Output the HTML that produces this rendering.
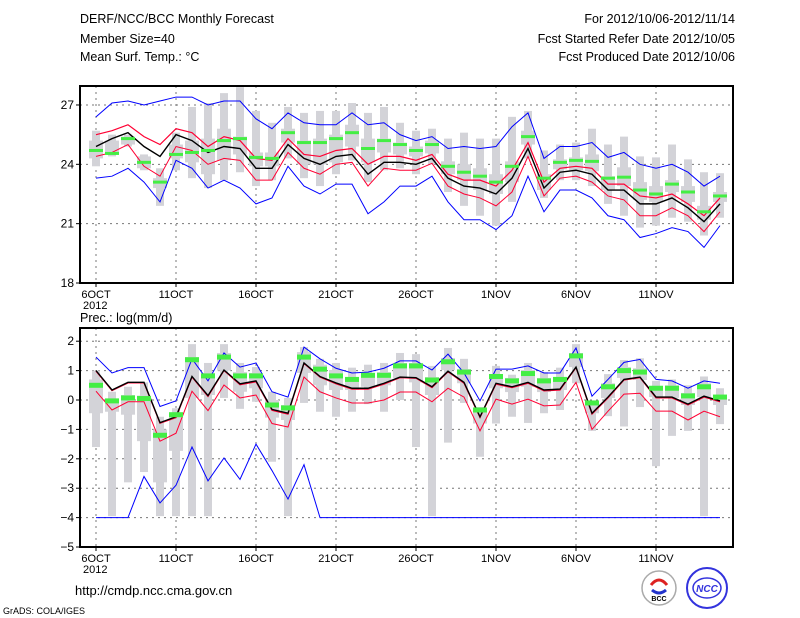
<!DOCTYPE html>
<html><head><meta charset="utf-8"><style>
html,body{margin:0;padding:0;background:#fff;}
svg{display:block;font-family:"Liberation Sans",sans-serif;}
</style></head><body>
<svg id="chart" width="800" height="618" viewBox="0 0 800 618" xmlns="http://www.w3.org/2000/svg">
<rect width="800" height="618" fill="#fff"/>
<g font-size="12.5" fill="#000">
<text x="80" y="23">DERF/NCC/BCC Monthly Forecast</text>
<text x="80" y="43">Member Size=40</text>
<text x="80" y="61">Mean Surf. Temp.: °C</text>
<text x="735" y="23" text-anchor="end">For 2012/10/06-2012/11/14</text>
<text x="735" y="43" text-anchor="end">Fcst Started Refer Date 2012/10/05</text>
<text x="735" y="61" text-anchor="end">Fcst Produced Date 2012/10/06</text>
<text x="80" y="322">Prec.: log(mm/d)</text>
<text x="75" y="595" font-size="13">http://cmdp.ncc.cma.gov.cn</text>
<text x="3" y="614" font-size="9">GrADS: COLA/IGES</text>
</g>
<g>
<circle cx="659" cy="588" r="17" fill="#fff" stroke="#aaa" stroke-width="1.5"/>
<path d="M651 585 q8 -10 16 0" fill="none" stroke="#d22" stroke-width="3"/>
<path d="M652 590 q7 6 14 0" fill="none" stroke="#23c" stroke-width="3"/>
<text x="659" y="601" font-size="7" text-anchor="middle" font-weight="bold">BCC</text>
</g>
<g>
<circle cx="707" cy="588" r="20" fill="#fff" stroke="#33d" stroke-width="2"/>
<ellipse cx="707" cy="588" rx="14" ry="10" fill="none" stroke="#33d" stroke-width="1.5"/>
<text x="707" y="592" font-size="10" font-style="italic" font-weight="bold" text-anchor="middle" fill="#33d">NCC</text>
</g>
<g id="top"></g>
<g id="bot"></g>
</svg>
<script>
// ---------- data: temperature panel ----------
const dayLabels = ["6OCT","11OCT","16OCT","21OCT","26OCT","1NOV","6NOV","11NOV"];
const tTicks = [18,21,24,27];
const tBlueUp = [26.4,27.1,27.2,27.0,27.2,27.4,27.4,27.0,27.2,27.2,26.3,25.8,26.6,26.1,26.0,26.0,26.6,26.0,26.1,25.5,25.2,25.4,24.8,24.9,24.8,24.9,25.9,26.6,24.3,24.9,24.9,25.1,24.35,24.6,24.0,23.8,24.0,23.6,22.9,23.4];
const tRedUp = [25.5,25.7,26.0,25.4,25.0,25.8,25.6,24.9,25.4,25.2,24.3,24.2,25.3,24.5,24.4,24.7,24.8,24.0,24.4,24.4,24.2,24.5,23.5,23.2,23.2,22.9,23.7,25.1,23.1,23.8,23.9,23.8,23.0,23.0,22.4,22.3,22.5,22.0,21.4,22.3];
const tMean = [24.9,25.3,25.6,24.9,24.4,25.5,25.2,24.6,24.9,24.8,23.8,23.8,25.0,24.3,24.0,24.4,24.5,23.5,24.1,24.1,24.0,24.3,23.3,22.9,22.8,22.5,23.3,24.8,22.8,23.6,23.7,23.5,22.7,22.7,22.0,22.0,22.3,21.8,21.1,22.0];
const tRedLo = [24.4,24.6,25.0,23.9,23.4,24.9,24.7,24.0,24.3,24.2,23.2,23.2,24.6,23.8,23.5,24.0,24.1,22.9,23.8,23.7,23.7,24.05,22.9,22.5,22.3,21.9,22.6,24.4,22.4,23.3,23.4,23.1,22.4,22.2,21.4,21.4,21.8,21.4,20.6,21.6];
const tBlueLo = [23.3,23.4,23.8,23.1,22.1,24.2,23.8,22.8,23.2,22.8,22.0,22.3,23.9,22.9,22.5,23.0,23.0,21.5,22.1,22.9,22.9,23.4,22.1,21.2,21.2,20.7,21.4,23.4,21.6,22.7,22.7,22.3,21.4,21.2,20.3,20.5,20.8,20.6,19.8,20.9];
const tObs = [24.7,24.55,25.3,24.1,23.1,24.5,24.6,24.7,25.2,25.3,24.35,24.3,25.6,25.1,25.1,25.3,25.6,24.8,25.2,25.0,24.7,25.0,23.9,23.6,23.4,23.1,23.9,25.4,23.3,24.1,24.2,24.15,23.3,23.35,22.7,22.5,23.0,22.6,21.6,22.4];
const tMax = [25.7,25.5,25.5,24.5,23.8,25.6,26.9,27.1,27.6,27.9,26.7,26.1,26.9,26.6,26.7,26.7,27.1,26.6,26.9,26.1,25.7,25.8,25.3,25.6,25.3,25.3,26.4,26.7,24.7,25.0,25.1,25.8,25.0,25.4,24.4,24.35,25.0,24.25,23.6,23.55];
const tMin = [23.9,24.4,24.9,23.7,21.9,23.7,23.3,22.8,23.2,23.6,22.9,23.2,24.3,23.3,22.9,23.5,24.2,23.1,23.7,23.8,23.5,24.0,22.6,21.9,21.4,20.9,22.1,24.3,22.3,23.2,23.2,22.9,22.0,21.4,20.8,20.9,21.3,21.1,20.4,21.3];
const tQ3 = [25.2,25.2,25.4,24.4,23.3,25.0,25.2,25.3,25.8,25.4,24.6,24.6,25.8,25.2,25.3,25.5,26.0,25.3,25.3,25.1,24.9,25.2,24.15,24.0,23.8,23.5,24.15,25.7,23.5,24.25,24.35,24.5,23.4,23.85,23.1,22.9,23.2,22.9,21.9,22.6];
const tQ1 = [24.3,24.5,25.0,23.8,22.8,24.3,24.1,23.5,24.2,24.5,23.9,23.9,25.1,24.0,24.0,24.1,24.9,24.1,24.6,24.5,24.4,24.55,23.5,23.2,22.7,22.5,23.1,25.0,22.7,23.75,23.7,23.65,22.7,22.9,22.2,22.1,22.6,22.1,21.2,22.1];
// ---------- data: precipitation panel ----------
const pTicks = [2,1,0,-1,-2,-3,-4,-5];
const pBlueUp = [1.46,0.92,1.1,1.1,-0.22,-0.03,1.4,0.65,1.6,1.12,1.26,0.28,0.1,1.8,1.4,1.08,0.92,0.95,1.08,1.33,1.33,1.02,1.56,0.92,-0.03,1.05,1.05,1.16,0.92,0.92,1.77,0.13,0.7,1.28,1.38,0.7,0.65,0.4,0.65,0.57];
const pMean = [1.0,0.34,0.6,0.6,-0.77,-0.57,0.8,0.15,1.02,0.55,0.65,-0.32,-0.45,1.26,0.8,0.58,0.4,0.4,0.57,0.78,0.76,0.45,0.98,0.6,-0.57,0.57,0.45,0.6,0.34,0.37,1.12,-0.45,0.1,0.7,0.78,0.1,0.1,-0.14,0.13,-0.03];
const pRedUp = [0.98,0.32,0.58,0.58,-0.79,-0.6,0.78,0.12,1.0,0.52,0.62,-0.35,-0.48,1.24,0.78,0.55,0.37,0.37,0.54,0.76,0.74,0.42,0.96,0.57,-0.6,0.54,0.42,0.57,0.31,0.34,1.1,-0.48,0.07,0.68,0.76,0.07,0.07,-0.17,0.1,-0.06];
const pRedLo = [0.3,-0.34,-0.06,-0.06,-1.4,-1.13,0.3,-0.36,0.51,0.07,0.17,-0.8,-0.92,0.78,0.28,0.07,-0.1,-0.1,0.0,0.27,0.27,-0.06,0.4,0.1,-1.05,0.03,-0.14,0.03,-0.2,-0.17,0.6,-1.0,-0.38,0.2,0.23,-0.38,-0.38,-0.68,-0.38,-0.57];
const pBlueLo = [-4,-4,-4,-2.6,-3.5,-2.9,-1.6,-2.75,-1.97,-2.7,-1.5,-2.4,-3.37,-2.2,-4,-4,-4,-4,-4,-4,-4,-4,-4,-4,-4,-4,-4,-4,-4,-4,-4,-4,-4,-4,-4,-4,-4,-4,-4,-4];
const pObs = [0.5,-0.03,0.07,0.05,-1.2,-0.5,1.37,0.82,1.46,0.82,0.82,-0.17,-0.27,1.46,1.05,0.82,0.7,0.84,0.84,1.16,1.16,0.68,1.3,0.95,-0.34,0.8,0.65,0.9,0.65,0.7,1.5,-0.1,0.45,1.0,0.95,0.4,0.4,0.14,0.45,0.1];
const pMax = [1.0,0.28,0.45,0.6,-0.57,-0.28,1.9,1.26,1.9,1.26,1.12,0.28,0.07,1.8,1.4,1.26,1.1,1.2,1.26,1.6,1.56,1.16,1.77,1.4,-0.24,1.16,0.86,1.26,0.95,1.1,1.9,-0.06,0.88,1.36,1.42,0.65,0.7,0.5,0.8,0.4];
const pMin = [-1.6,-3.95,-2.8,-2.45,-3.95,-3.95,-3.95,-3.95,0.07,-0.3,-0.06,-2.1,-3.95,-0.1,-0.4,-0.57,-0.4,-0.14,-0.4,0.0,-1.6,-3.95,-1.45,-0.1,-1.93,-0.8,-0.57,-0.78,-0.45,-0.34,0.57,-1.05,-0.55,-0.9,-0.24,-2.25,-1.22,-1.05,-3.95,-0.82];
const pQ3 = [0.7,0.0,0.17,0.15,-1.0,-0.45,1.46,0.92,1.6,0.95,0.92,0.0,-0.17,1.63,1.2,1.02,0.78,0.92,0.95,1.26,1.26,0.78,1.43,1.05,-0.34,0.85,0.75,1.02,0.75,0.78,1.6,-0.06,0.57,1.12,1.08,0.45,0.5,0.24,0.57,0.17];
const pQ1 = [-0.45,-0.4,-0.5,-1.4,-2.8,-1.73,0.07,0.17,1.0,0.28,0.4,-0.6,-0.68,0.92,0.5,0.34,0.34,0.45,0.5,0.75,0.6,0.17,1.02,0.57,-0.8,0.4,0.27,0.45,0.27,0.34,1.12,-0.45,0.07,0.75,0.68,0.1,0.07,-0.17,0.1,-0.17];

const NS="http://www.w3.org/2000/svg";
const X0=96, DX=16, LEFT=80, RIGHT=733;
function xs(i){return X0+i*DX;}
function mk(parent,tag,attrs){const e=document.createElementNS(NS,tag);for(const k in attrs)e.setAttribute(k,attrs[k]);parent.appendChild(e);return e;}

function panel(g,cfg){
  const y=cfg.y;
  // grid
  cfg.ticks.forEach(t=>{
    const yy=y(t);
    if(yy>cfg.top+2&&yy<cfg.bottom-2){
      const l=mk(g,'line',{x1:LEFT,x2:RIGHT,y1:yy,y2:yy,stroke:'#777','stroke-dasharray':'2,4','stroke-width':1});
      
      
    }
    const tk=mk(g,'line',{x1:LEFT-4,x2:LEFT,y1:yy,y2:yy,stroke:'#000'});
    
    
    const tx=mk(g,'text',{x:LEFT-6,y:yy+4,'text-anchor':'end','font-size':12});
    tx.textContent=(t<0?'\u2212'+(-t):t);
    
    
  });
  dayLabels.forEach((lab,k)=>{
    const xx=xs(k*5);
    const l=mk(g,'line',{x1:xx,x2:xx,y1:cfg.top,y2:cfg.bottom,stroke:'#777','stroke-dasharray':'2,4'});
    
    
    const tk=mk(g,'line',{x1:xx,x2:xx,y1:cfg.bottom,y2:cfg.bottom+4,stroke:'#000'});
    
    
    const tx=mk(g,'text',{x:xx,y:cfg.bottom+15,'text-anchor':'middle','font-size':11});
    tx.textContent=lab;
    
    
  });
  const yr=mk(g,'text',{x:xs(0)-13,y:cfg.bottom+26,'font-size':11});
  yr.textContent='2012';
  
  
  // boxes
  cfg.max.forEach((v,i)=>{
    const w=mk(g,'rect',{x:xs(i)-4,y:y(v),width:8,height:Math.max(1,y(cfg.min[i])-y(v)),fill:'#d3d3d8'});
    
    
    const b=mk(g,'rect',{x:xs(i)-7,y:y(cfg.q3[i]),width:14,height:Math.max(1,y(cfg.q1[i])-y(cfg.q3[i])),fill:'#d3d3d8'});
    
    
  });
  // lines
  const series=[[cfg.blueLo,'#0000ff',1,'lower-bound-line'],[cfg.blueUp,'#0000ff',1,'upper-bound-line'],[cfg.redLo,'#ff0033',1,'lower-spread-line'],[cfg.redUp,'#ff0033',1.2,'upper-spread-line'],[cfg.mean,'#000',1.4,'ensemble-mean-line']];
  series.forEach(s=>{
    const p=mk(g,'polyline',{points:s[0].map((v,i)=>xs(i)+','+y(v)).join(' '),fill:'none',stroke:s[1],'stroke-width':s[2]});
    
    
  });
  cfg.obs.forEach((v,i)=>{
    const r=mk(g,'rect',{x:xs(i)-7,y:y(v)-cfg.gh/2,width:14,height:cfg.gh,fill:'#44ee44'});
    
    
  });
  const f=mk(g,'rect',{x:LEFT,y:cfg.top,width:RIGHT-LEFT,height:cfg.bottom-cfg.top,fill:'none',stroke:'#000','stroke-width':2});
  
  
}
panel(document.getElementById('top'),{
  y:v=>283-(v-18)*19.78, top:86, bottom:283, ticks:tTicks,
  max:tMax,min:tMin,q3:tQ3,q1:tQ1,blueUp:tBlueUp,blueLo:tBlueLo,redUp:tRedUp,redLo:tRedLo,mean:tMean,obs:tObs,gh:3});
panel(document.getElementById('bot'),{
  y:v=>400-v*29.4, top:328, bottom:547, ticks:pTicks,
  max:pMax,min:pMin,q3:pQ3,q1:pQ1,blueUp:pBlueUp,blueLo:pBlueLo,redUp:pRedUp,redLo:pRedLo,mean:pMean,obs:pObs,gh:5});
</script>
</body></html>
